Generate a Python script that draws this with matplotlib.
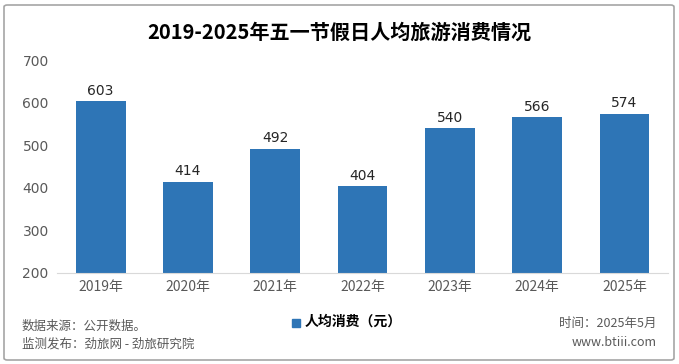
import matplotlib
matplotlib.use("Agg")
import matplotlib.pyplot as plt
from matplotlib.patches import FancyBboxPatch, Rectangle

plt.rcParams['font.family'] = ['Noto Sans CJK SC', 'DejaVu Sans']

years = ["2019年", "2020年", "2021年", "2022年", "2023年", "2024年", "2025年"]
spend = [603, 414, 492, 404, 540, 566, 574]
y_ticks = [200, 300, 400, 500, 600, 700]

bar_color = "#2E75B6"
text_gray = "#595959"

fig = plt.figure(figsize=(6.79, 3.64), dpi=100)
ax = fig.add_axes([0.084, 0.25, 0.9, 0.585])

x = range(len(years))
bars = ax.bar(x, spend, width=0.57, color=bar_color, zorder=2)
for xi, v in zip(x, spend):
    ax.text(xi, v + 8, str(v), ha="center", va="bottom", fontsize=10,
            color="#262626", family=["DejaVu Sans"])

ax.set_xlim(-0.5, len(years) - 0.5)
ax.set_ylim(200, 700)
ax.set_yticks(y_ticks)
ax.set_yticklabels([str(t) for t in y_ticks], family=["DejaVu Sans"])
ax.set_xticks(list(x))
ax.set_xticklabels(years)
ax.tick_params(axis="both", length=0, labelsize=10, colors=text_gray)
ax.tick_params(axis="x", pad=5)
ax.tick_params(axis="y", pad=6)
for s in ["top", "right", "left"]:
    ax.spines[s].set_visible(False)
ax.spines["bottom"].set_color("#D9D9D9")

fig.text(0.5, 0.912, "2019-2025年五一节假日人均旅游消费情况", ha="center", va="center",
         fontsize=14.5, fontweight="bold", color="#000000")

# legend
fig.patches.append(Rectangle((292 / 679, 1 - 327 / 364), 8 / 679, 8 / 364,
                             transform=fig.transFigure, color=bar_color))
fig.text(305 / 679, 1 - 322 / 364, "人均消费（元）", ha="left", va="center",
         fontsize=10, fontweight="bold", color="#000000")

fig.text(22 / 679, 1 - 326 / 364, "数据来源：公开数据。", ha="left", va="center",
         fontsize=9, color=text_gray)
fig.text(22 / 679, 1 - 344 / 364, "监测发布：劲旅网 - 劲旅研究院", ha="left", va="center",
         fontsize=9, color=text_gray)
fig.text(657 / 679, 1 - 323 / 364, "时间：2025年5月", ha="right", va="center",
         fontsize=9, color=text_gray)
fig.text(657 / 679, 1 - 342 / 364, "www.btiii.com", ha="right", va="center",
         fontsize=9, color=text_gray)

fig.patches.append(FancyBboxPatch((4 / 679, 4 / 364), 670 / 679, 355 / 364,
                                  boxstyle="round,pad=0,rounding_size=0.005",
                                  transform=fig.transFigure, fill=False,
                                  edgecolor="#A6A6A6", linewidth=1.2))

fig.savefig("out.png", dpi=100)
